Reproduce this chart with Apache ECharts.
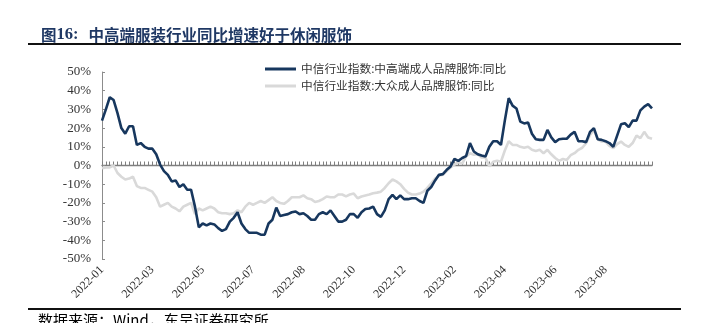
<!DOCTYPE html>
<html>
<head>
<meta charset="utf-8">
<script src="https://cdn.jsdelivr.net/npm/echarts@6/dist/echarts.min.js"></script>
<style>html,body{margin:0;padding:0;background:#fff;}#c{width:706px;height:323px;}</style>
</head>
<body>
<div id="c"></div>
<script>
// x-axis tick labels (one every 13 sampled points)
const tickLabels = ['2022-01','2022-03','2022-05','2022-07','2022-08','2022-10','2022-12','2023-02','2023-04','2023-06','2023-08'];
const seriesNames = ['中信行业指数:中高端成人品牌服饰:同比', '中信行业指数:大众成人品牌服饰:同比'];
// 中高端成人品牌服饰 同比 (%)
const highEnd = [24,30,36.5,35,28,20,17,21,21,11,12,10,9,9,6,0.5,-3,-5,-8.5,-8,-11.5,-10,-13,-13,-22,-33,-31,-32,-31,-31.5,-33.5,-35,-34,-30,-28,-25,-31,-34,-36,-36,-36,-37,-37,-31,-29,-22.5,-27,-26.5,-26,-25,-24.6,-26,-25.5,-27,-29,-29,-26,-25,-26,-24,-27,-30,-30,-29,-26,-26,-28,-25,-23.3,-23,-22,-26,-27.5,-24,-18,-15.7,-18,-16,-18,-18,-17.5,-17.5,-19,-20,-13.5,-11.5,-8,-5,-4.6,-2.3,-0.5,3.5,2.5,4,5,12,7.5,6,5.3,4.8,10,13,13,11,24,36,32,30.5,23.5,22.5,23,17,14,13.7,13.7,19,15,12.5,14,14.3,14.3,16.5,18,13,13,12.5,18,20,14,13.7,13,12,10,16,22,22.6,20.5,24,24,29.5,31.5,32.8,30.5];
// 大众成人品牌服饰 同比 (%)
const massMarket = [-1.5,-1,-1,0,-4,-6,-7.5,-7,-6,-11,-12,-12,-13,-14,-17,-22,-21,-20,-22,-23,-24.5,-22,-21,-20,-26,-23,-24,-23,-22,-23,-25,-25.5,-25.5,-26,-25.5,-24,-25,-22,-20,-21,-20,-19,-20,-18.5,-17,-19,-20,-20.5,-19,-17,-17,-17,-16,-17.5,-18,-19.5,-19,-18,-16.6,-17,-17,-15.5,-15.5,-16.5,-15.5,-15,-17.5,-16.6,-16,-15.5,-14.8,-14.5,-14,-12,-9.5,-7.5,-8.5,-10,-12.5,-14.5,-15.5,-15.5,-15,-14,-12,-9.5,-7,-5.5,-5,-3,-1,0.5,1.8,1,5,6.5,5.8,6,4.3,4.3,-0.5,2,2.5,2,8,13,11,11,10,9.5,10,8.4,7.8,8.4,6.6,8.4,6,4,2.5,3.5,3,5.5,6.6,8.4,9.5,12,16.4,19,14,12.8,12.8,10.5,9.3,11.4,12.8,11,10,12,16,14.6,18,15,14.3];

const labelStep = 13;
const categories = highEnd.map((_, i) => 'p' + i);

const chart = echarts.init(document.getElementById('c'), null, {renderer: 'canvas'});
const serif = '"Liberation Serif", "Times New Roman", serif';
const cjk = '"Noto Sans CJK SC", sans-serif';

chart.setOption({
  animation: false,
  backgroundColor: '#fff',
  title: {
    left: 36, top: 21,
    text: '{a|图}{b|16:}  {a|中高端服装行业同比增速好于休闲服饰}',
    textStyle: {
      rich: {
        a: {fontFamily: cjk, fontSize: 15.5, fontWeight: 'bold', color: '#1f3864'},
        b: {fontFamily: serif, fontSize: 16.5, fontWeight: 'bold', color: '#1f3864'}
      }
    }
  },
  graphic: [
    {type: 'line', shape: {x1: 28, y1: 44, x2: 681, y2: 44}, style: {stroke: '#111', lineWidth: 2}},
    {type: 'line', shape: {x1: 28, y1: 309, x2: 681, y2: 309}, style: {stroke: '#111', lineWidth: 2}},
    {type: 'text', left: 38, top: 313, style: {text: '数据来源：Wind，东吴证券研究所', font: '15px "Noto Sans CJK SC", sans-serif', fill: '#000'}}
  ],
  legend: {
    orient: 'vertical', left: 260, top: 58,
    itemWidth: 31, itemHeight: 3, itemGap: 5, icon: 'rect',
    textStyle: {fontFamily: cjk, fontSize: 11.7, color: '#333', lineHeight: 12},
    data: seriesNames
  },
  grid: {left: 102, right: 54, top: 72, bottom: 64, containLabel: false},
  xAxis: [
    {
      type: 'category', data: categories, boundaryGap: false, position: 'bottom',
      axisLine: {show: false, onZero: false}, axisTick: {show: false}, splitLine: {show: false},
      axisLabel: {
        interval: labelStep - 1, rotate: 45, margin: 9,
        fontFamily: serif, fontSize: 12, color: '#333',
        formatter: (v, idx) => (idx % labelStep === 0 ? tickLabels[idx / labelStep] : '')
      }
    },
    {
      type: 'category', data: categories, boundaryGap: false, position: 'bottom',
      axisLine: {show: true, onZero: true, lineStyle: {color: '#7f7f7f', width: 1.3}},
      axisTick: {show: true, interval: 0, inside: true, length: 4, lineStyle: {color: '#7f7f7f', width: 1}},
      axisLabel: {show: false}, splitLine: {show: false}
    }
  ],
  yAxis: {
    type: 'value', min: -50, max: 50, interval: 10,
    axisLine: {show: true, lineStyle: {color: '#8c8c8c', width: 1}},
    axisTick: {show: true, inside: true, length: 3, lineStyle: {color: '#8c8c8c'}},
    splitLine: {show: false},
    axisLabel: {fontFamily: serif, fontSize: 13, color: '#333', margin: 11, formatter: v => v + '%'}
  },
  series: [
    {
      name: seriesNames[0], type: 'line', data: highEnd, xAxisIndex: 0,
      symbol: 'none', smooth: false,
      lineStyle: {color: '#17375e', width: 2.6}, itemStyle: {color: '#17375e'}, z: 3
    },
    {
      name: seriesNames[1], type: 'line', data: massMarket, xAxisIndex: 0,
      symbol: 'none', smooth: false,
      lineStyle: {color: '#d9d9d9', width: 2.6}, itemStyle: {color: '#d9d9d9'}, z: 2
    }
  ]
});
</script>
</body>
</html>
